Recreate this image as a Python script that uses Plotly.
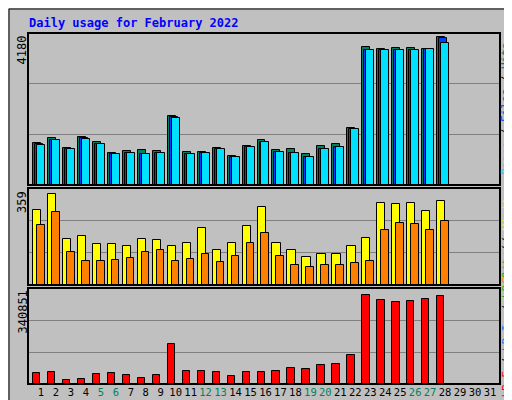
import plotly.graph_objects as go

days = list(range(1, 32))
hits = [1146,1284,1009,1311,1174,871,926,954,926,1889,899,899,1009,789,1064,1229,954,981,844,1064,1119,1559,3787,3732,3760,3760,3732,4062]
files = [1120,1250,985,1280,1140,848,892,848,875,1860,848,875,985,765,1040,1180,903,875,765,985,1040,1535,3710,3710,3710,3710,3732,4035]
pages = [1110,1247,981,1275,1137,844,889,844,871,1852,844,871,981,761,1036,1174,899,871,761,981,1036,1531,3705,3705,3705,3705,3732,3897]
visits = [277,335,172,183,150,150,146,172,168,146,157,212,128,157,219,288,154,128,103,114,114,146,175,302,299,302,273,310]
sites = [222,270,121,88,88,92,99,121,128,88,96,114,85,106,154,193,106,74,66,74,74,81,88,204,230,226,204,237]
kbytes = [39400,42900,15100,18500,35900,39400,32500,22000,32500,143700,46400,46400,42900,29000,42900,42900,46400,56800,53300,67200,70700,102000,317600,296700,289800,293200,300200,314100]
weekend = [5,6,12,13,19,20,26,27]
max_hits, max_visits, max_kb = 4180, 359, 340851

d = days[:len(hits)]
fig = go.Figure()
def bar(y, color, off, w, ax):
    fig.add_trace(go.Bar(x=d, y=y, offset=off, width=w, marker=dict(color=color, line=dict(color="black", width=1)),
                         xaxis="x", yaxis=ax, showlegend=False, hoverinfo="skip"))
bar(hits, "#00805c", -0.534, 0.534, "y")
bar(files, "#0040ff", -0.40, 0.534, "y")
bar(pages, "#00e0ff", -0.267, 0.534, "y")
bar(visits, "#ffff00", -0.534, 0.55, "y2")
bar(sites, "#ff8000", -0.267, 0.51, "y2")
bar(kbytes, "#ff0000", -0.534, 0.49, "y3")

H = 351.0
def dom(top_px, bot_px):
    return [(376 - bot_px) / H, (376 - top_px) / H]
grid = dict(showgrid=True, gridcolor="#808080", gridwidth=1, showticklabels=False, ticks="", zeroline=False, fixedrange=True)
ticktext = [f'<span style="color:#00805c">{i}</span>' if i in weekend else str(i) for i in days]
fig.update_layout(
    width=512, height=400, margin=dict(l=20, r=20, t=25, b=24, autoexpand=False),
    paper_bgcolor="#c0c0c0", plot_bgcolor="#c0c0c0", barmode="overlay", bargap=0,
    font=dict(family="DejaVu Sans Mono", size=11, color="black"),
    xaxis=dict(range=[0.131, 31.67], tickvals=days, ticktext=ticktext, anchor="y3", showgrid=False, ticks="",
               tickangle=0, automargin=False, zeroline=False, tickfont=dict(size=10.5), fixedrange=True),
    yaxis=dict(domain=dom(25, 177), range=[0, max_hits], tickvals=[max_hits/3, 2*max_hits/3], **grid),
    yaxis2=dict(domain=dom(180, 277), range=[0, max_visits], tickvals=[max_visits/3, 2*max_visits/3], **grid),
    yaxis3=dict(domain=dom(280, 376), range=[0, max_kb], tickvals=[max_kb/3, 2*max_kb/3], **grid),
)
shapes = []
for ax in ["y", "y2", "y3"]:
    shapes.append(dict(type="rect", xref="x domain", yref=f"{ax} domain", x0=0, x1=1, y0=0, y1=1,
                       line=dict(color="black", width=2), layer="above"))
shapes.append(dict(type="rect", xref="paper", yref="paper", x0=(505-20)/472, x1=(512-20)/472, y0=-24/351, y1=1+25/351,
                   fillcolor="#808080", line=dict(width=0), layer="below"))
shapes.append(dict(type="rect", xref="paper", yref="paper", x0=-20/472, x1=(512-20)/472, y0=-24/351, y1=-19/351,
                   fillcolor="#808080", line=dict(width=0), layer="below"))
shapes.append(dict(type="rect", xref="paper", yref="paper", x0=-19/472, x1=(505-20)/472, y0=-19/351, y1=1+24/351,
                   line=dict(color="black", width=1), layer="below"))
fig.update_layout(shapes=shapes)

def px_x(p): return (p - 20) / 472
def px_y(p): return (376 - p) / H
ann = [
    dict(text="<b>Daily usage for February 2022</b>", x=px_x(19), y=px_y(15), xanchor="left", yanchor="middle",
         font=dict(color="#0000ff", size=12)),
    dict(text=str(max_hits), x=px_x(14), y=px_y(26), textangle=-90, xanchor="center", yanchor="top", font=dict(size=12)),
    dict(text=str(max_visits), x=px_x(14), y=px_y(181), textangle=-90, xanchor="center", yanchor="top", font=dict(size=12)),
    dict(text=str(max_kb), x=px_x(14), y=px_y(281), textangle=-90, xanchor="center", yanchor="top", font=dict(size=12)),
    dict(text='<span style="color:#00e0ff">Pages</span> / <span style="color:#0040ff">Files</span> / <span style="color:#00805c">Hits</span>',
         x=px_x(498), y=px_y(101), textangle=-90, xanchor="center", yanchor="middle", font=dict(size=11)),
    dict(text='<span style="color:#ff8000">Sites</span> / <span style="color:#ffff00">Visits</span>',
         x=px_x(498), y=px_y(181), textangle=-90, xanchor="center", yanchor="top", font=dict(size=11)),
    dict(text='<span style="color:#ff0000">kB F</span> / <span style="color:#0080ff">kB In</span> / <span style="color:#00c000">kB Out</span> / ',
         x=px_x(498), y=px_y(392), textangle=-90, xanchor="center", yanchor="bottom", font=dict(size=11)),
]
for a in ann:
    a.update(xref="paper", yref="paper", showarrow=False)
fig.update_layout(annotations=ann)
fig.write_html("out.html")
